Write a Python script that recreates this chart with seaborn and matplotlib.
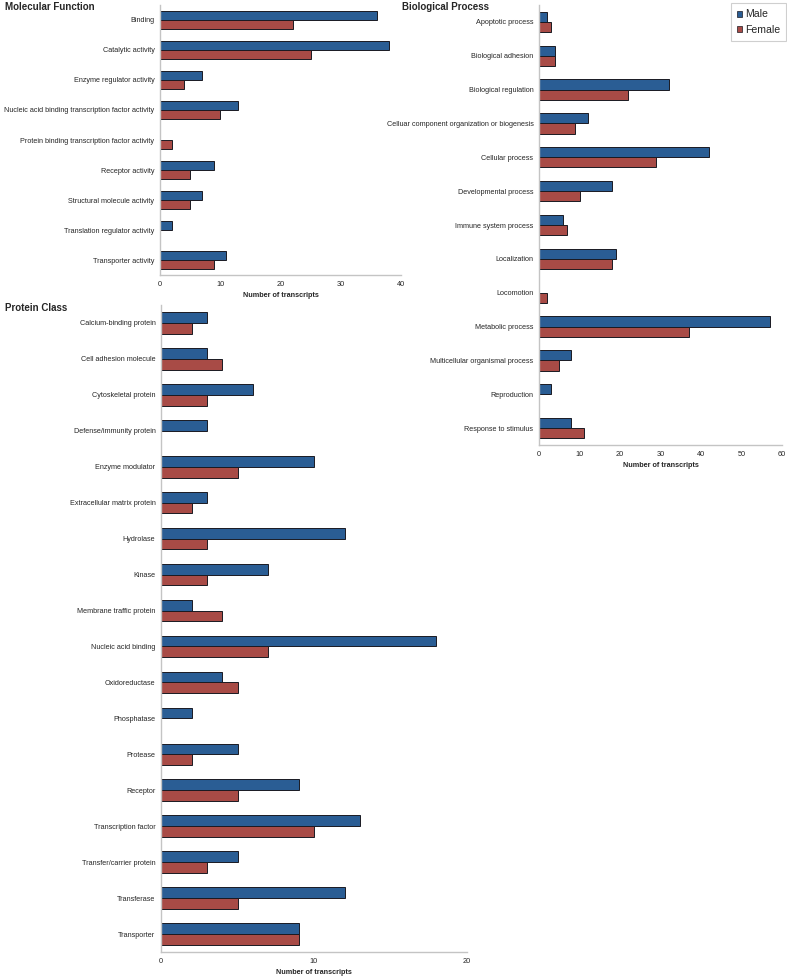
import pandas as pd
import matplotlib.pyplot as plt
import seaborn as sns
from matplotlib.patches import Patch

# Molecular Function
mf_terms = ["Binding", "Catalytic activity", "Enzyme regulator activity",
            "Nucleic acid binding transcription factor activity",
            "Protein binding transcription factor activity", "Receptor activity",
            "Structural molecule activity", "Translation regulator activity",
            "Transporter activity"]
mf_male = [36, 38, 7, 13, 0, 9, 7, 2, 11]
mf_female = [22, 25, 4, 10, 2, 5, 5, 0, 9]

# Biological Process
bp_terms = ["Apoptotic process", "Biological adhesion", "Biological regulation",
            "Celluar component organization or biogenesis", "Cellular process",
            "Developmental process", "Immune system process", "Localization",
            "Locomotion", "Metabolic process", "Multicellular organismal process",
            "Reproduction", "Response to stimulus"]
bp_male = [2, 4, 32, 12, 42, 18, 6, 19, 0, 57, 8, 3, 8]
bp_female = [3, 4, 22, 9, 29, 10, 7, 18, 2, 37, 5, 0, 11]

# Protein Class
pc_terms = ["Calcium-binding protein", "Cell adhesion molecule", "Cytoskeletal protein",
            "Defense/immunity protein", "Enzyme modulator", "Extracellular matrix protein",
            "Hydrolase", "Kinase", "Membrane traffic protein", "Nucleic acid binding",
            "Oxidoreductase", "Phosphatase", "Protease", "Receptor",
            "Transcription factor", "Transfer/carrier protein", "Transferase",
            "Transporter"]
pc_male = [3, 3, 6, 3, 10, 3, 12, 7, 2, 18, 4, 2, 5, 9, 13, 5, 12, 9]
pc_female = [2, 4, 3, 0, 5, 2, 3, 3, 4, 7, 5, 0, 2, 5, 10, 3, 5, 9]

sexes = ["Male", "Female"]
colors = {"Male": "#2A5D94", "Female": "#A84B46"}

sns.set_style("white")
plt.rcParams["font.family"] = ["Liberation Sans", "DejaVu Sans"]


def long_df(terms, male, female):
    df = pd.DataFrame({"term": terms, "Male": male, "Female": female})
    return df.melt(id_vars="term", var_name="sex", value_name="n")


def panel(fig, rect, terms, male, female, xmax, xticks, title, title_x, title_y):
    ax = fig.add_axes(rect)
    ax.patch.set_alpha(0)
    df = long_df(terms, male, female)
    sns.barplot(data=df, y="term", x="n", hue="sex", hue_order=sexes,
                palette=colors, saturation=1, orient="h", width=0.6,
                edgecolor="#1a1a22", linewidth=0.7, legend=False, ax=ax)
    ax.set_xlim(0, xmax)
    ax.set_ylim(len(terms) - 0.5, -0.5)
    ax.set_xticks(xticks)
    ax.set_xlabel("Number of transcripts", fontsize=5.2, fontweight="bold", labelpad=3)
    ax.set_ylabel("")
    ax.tick_params(axis="x", labelsize=5.3, length=2, color="#bbbbbb", pad=2)
    ax.tick_params(axis="y", which="major", labelsize=5.2, length=0, pad=4)
    ax.set_yticks([i + 0.5 for i in range(len(terms) - 1)], minor=True)
    ax.tick_params(axis="y", which="minor", length=2, color="#bbbbbb")
    for s in ["top", "right"]:
        ax.spines[s].set_visible(False)
    for s in ["left", "bottom"]:
        ax.spines[s].set_color("#c4c4c4")
        ax.spines[s].set_linewidth(1.0)
    fig.text(title_x, title_y, title, fontsize=7, fontweight="bold", va="top", ha="left")
    return ax


fig = plt.figure(figsize=(7.87, 9.77), dpi=100)

panel(fig, [0.2033, 0.7185, 0.3062, 0.2764], mf_terms, mf_male, mf_female,
      40, [0, 10, 20, 30, 40], "Molecular Function", 0.006, 0.998)
panel(fig, [0.6849, 0.5445, 0.3088, 0.4504], bp_terms, bp_male, bp_female,
      60, [0, 10, 20, 30, 40, 50, 60], "Biological Process", 0.511, 0.998)
panel(fig, [0.2046, 0.0256, 0.3888, 0.6622], pc_terms, pc_male, pc_female,
      20, [0, 10, 20], "Protein Class", 0.006, 0.69)

handles = [Patch(facecolor=colors[s], edgecolor="#1a1a22", linewidth=0.5) for s in sexes]
leg = fig.legend(handles, sexes, loc="upper right", bbox_to_anchor=(0.999, 0.997),
                 borderaxespad=0, fontsize=7.6, frameon=True, fancybox=False,
                 handlelength=0.5, handleheight=0.5, handletextpad=0.25,
                 borderpad=0.6, labelspacing=0.55)
leg.get_frame().set_edgecolor("#c4c4c4")
leg.get_frame().set_linewidth(0.8)

fig.savefig("out.png", dpi=100)
plt.close(fig)
